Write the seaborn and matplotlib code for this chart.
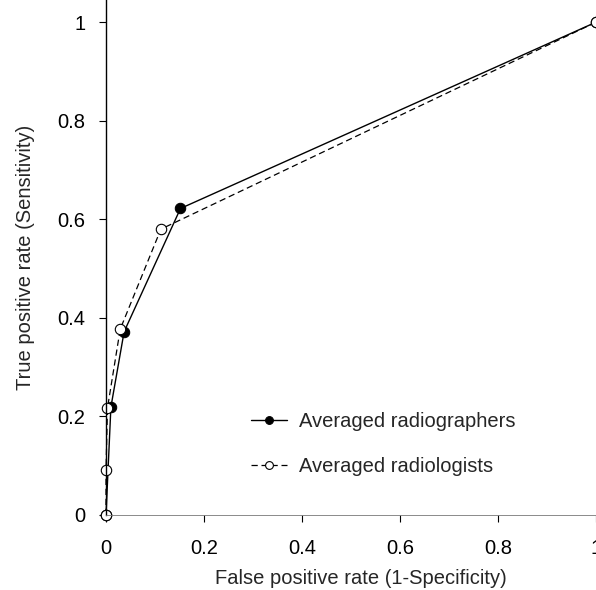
import matplotlib
matplotlib.use("Agg")
import matplotlib.pyplot as plt
import seaborn as sns
import pandas as pd
from matplotlib.ticker import FuncFormatter

sns.set_style("white")
plt.rcParams['font.family'] = ['Liberation Sans', 'DejaVu Sans']

# Data
radiographers_fpr = [0.0, 0.010, 0.037, 0.152, 1.0]
radiographers_tpr = [0.0, 0.219, 0.372, 0.622, 1.0]
radiologists_fpr = [0.0, 0.0, 0.003, 0.029, 0.112, 1.0]
radiologists_tpr = [0.0, 0.091, 0.217, 0.377, 0.580, 1.0]
series_labels = ["Averaged radiographers", "Averaged radiologists"]
tick_values = [0, 0.2, 0.4, 0.6, 0.8, 1]

df_g = pd.DataFrame({"fpr": radiographers_fpr, "tpr": radiographers_tpr})
df_l = pd.DataFrame({"fpr": radiologists_fpr, "tpr": radiologists_tpr})

fig = plt.figure(figsize=(5.96, 5.90), dpi=100)
ax = fig.add_axes([106/596, 75/590, 490/596, 515/590])

sns.lineplot(data=df_g, x="fpr", y="tpr", sort=False, estimator=None, ax=ax,
             color="black", linewidth=1.0, marker="o", markersize=7.5,
             markerfacecolor="black", markeredgecolor="black",
             label=series_labels[0], clip_on=False)
sns.lineplot(data=df_l, x="fpr", y="tpr", sort=False, estimator=None, ax=ax,
             color="black", linewidth=0.9, linestyle=(0, (5, 3)), marker="o",
             markersize=7.5, markerfacecolor="white", markeredgecolor="black",
             markeredgewidth=0.8, label=series_labels[1], clip_on=False)

ax.set_xlim(0, 1.0)
ax.set_ylim(0, 1.045)
ax.set_xticks(tick_values)
ax.set_yticks(tick_values)
fmt = FuncFormatter(lambda v, p: "0" if v == 0 else ("1" if v == 1 else f"{v:.1f}"))
ax.xaxis.set_major_formatter(fmt)
ax.yaxis.set_major_formatter(fmt)
ax.tick_params(axis="both", which="major", direction="out", length=5, width=0.8,
               labelsize=14.5, colors="black", bottom=True, left=True)
ax.tick_params(axis="x", pad=12)
ax.tick_params(axis="y", pad=10)

for s in ["top", "right"]:
    ax.spines[s].set_visible(False)
ax.spines["left"].set_color("black")
ax.spines["left"].set_linewidth(1.0)
ax.spines["bottom"].set_color("#777777")
ax.spines["bottom"].set_linewidth(0.6)
ax.spines["bottom"].set_linestyle((0, (1, 1)))

ax.set_xlabel("False positive rate (1-Specificity)", fontsize=14.5, labelpad=8)
ax.xaxis.label.set_x(0.52)
ax.set_ylabel("True positive rate (Sensitivity)", fontsize=14.5, labelpad=16)

leg = ax.legend(loc="upper left", bbox_to_anchor=(0.296, 0.200), frameon=False,
                fontsize=14.5, handlelength=1.8, labelspacing=1.3, handletextpad=0.6,
                markerscale=0.75, borderpad=0, borderaxespad=0)

fig.savefig("out.png", dpi=100)
